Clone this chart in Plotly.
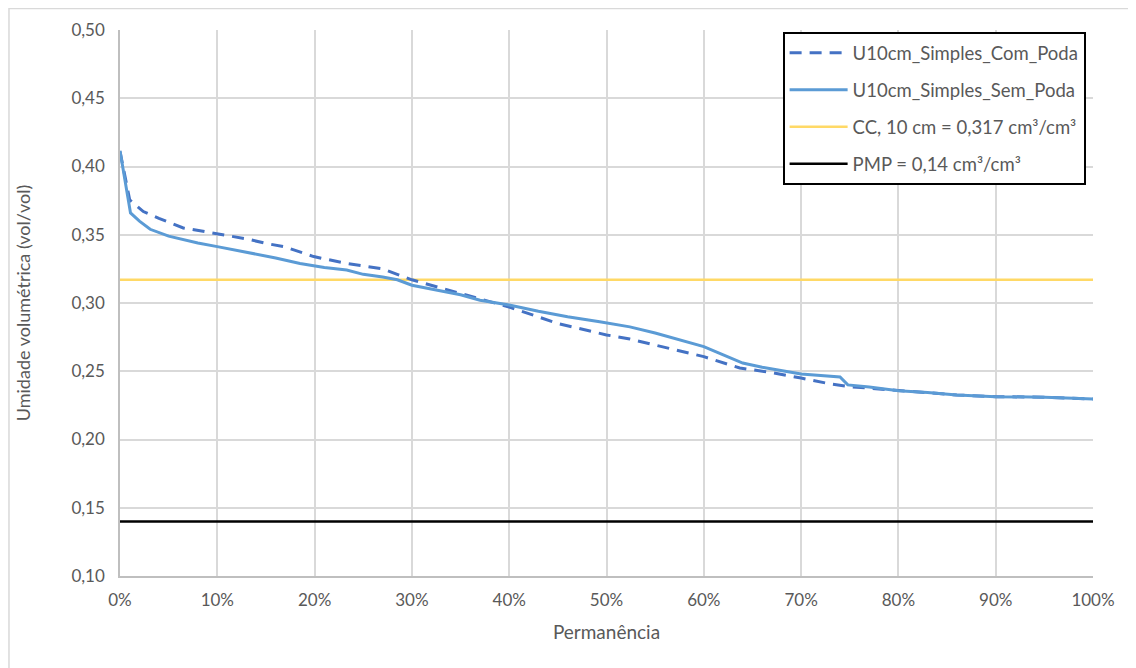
import plotly.graph_objects as go

# Permanência (fraction of time) and volumetric moisture
perm_com = [0.0, 0.005, 0.01, 0.024, 0.04, 0.065, 0.10, 0.13, 0.15, 0.17, 0.199, 0.233, 0.27,
            0.30, 0.33, 0.36, 0.40, 0.45, 0.50, 0.524, 0.55, 0.60, 0.637, 0.67, 0.70, 0.73,
            0.75, 0.80, 0.86, 0.90, 0.95, 1.0]
umid_com = [0.411, 0.392, 0.3755, 0.367, 0.362, 0.355, 0.3506, 0.347, 0.3437, 0.341, 0.334, 0.329,
            0.325, 0.317, 0.311, 0.305, 0.297, 0.285, 0.2766, 0.2736, 0.269, 0.2607, 0.2524,
            0.249, 0.245, 0.2407, 0.2387, 0.236, 0.2326, 0.2314, 0.231, 0.2297]

perm_sem = [0.0, 0.0108, 0.02, 0.031, 0.05, 0.072, 0.08, 0.10, 0.11, 0.133, 0.16, 0.185, 0.21,
            0.233, 0.25, 0.27, 0.285, 0.30, 0.32, 0.35, 0.37, 0.40, 0.43, 0.46, 0.493, 0.50,
            0.524, 0.55, 0.58, 0.60, 0.62, 0.64, 0.66, 0.70, 0.74, 0.748, 0.77, 0.80, 0.83,
            0.86, 0.90, 0.95, 0.98, 1.0]
umid_sem = [0.4115, 0.366, 0.360, 0.354, 0.349, 0.345, 0.344, 0.3413, 0.340, 0.3366, 0.333, 0.329,
            0.326, 0.3242, 0.321, 0.319, 0.317, 0.313, 0.310, 0.306, 0.302, 0.2985, 0.294,
            0.290, 0.2863, 0.2855, 0.2825, 0.278, 0.272, 0.268, 0.262, 0.256, 0.253, 0.248,
            0.2458, 0.240, 0.2385, 0.2357, 0.2345, 0.2326, 0.2314, 0.231, 0.2302, 0.2297]

cc_value = 0.317
pmp_value = 0.14
ref_x = [0.0, 1.0]

names = ["U10cm_Simples_Com_Poda", "U10cm_Simples_Sem_Poda",
         "CC, 10 cm = 0,317 cm³/cm³", "PMP = 0,14 cm³/cm³"]

fig = go.Figure()
fig.add_trace(go.Scatter(x=ref_x, y=[cc_value, cc_value], mode="lines", name=names[2],
                         line=dict(color="#FFD966", width=2.5), legendrank=3, legendgroup="c"))
fig.add_trace(go.Scatter(x=ref_x, y=[pmp_value, pmp_value], mode="lines", name=names[3],
                         line=dict(color="#000000", width=2.5), legendrank=4, legendgroup="d"))
fig.add_trace(go.Scatter(x=perm_com, y=umid_com, mode="lines", name=names[0],
                         line=dict(color="#4472C4", width=3, dash="12px,8px"), legendrank=1,
                         legendgroup="a"))
fig.add_trace(go.Scatter(x=perm_sem, y=umid_sem, mode="lines", name=names[1],
                         line=dict(color="#5B9BD5", width=3), legendrank=2, legendgroup="b"))

font_family = "Lato, 'Liberation Sans', sans-serif"
fig.update_layout(
    width=1136, height=668,
    margin=dict(l=112, r=51, t=22, b=100),
    paper_bgcolor="white", plot_bgcolor="white",
    separators=",.",
    font=dict(family=font_family, size=17, color="#595959"),
    showlegend=True,
    legend=dict(x=0.681, y=0.996, xanchor="left", yanchor="top",
                bordercolor="#000000", borderwidth=2, bgcolor="white",
                font=dict(size=18.5, color="#595959"),
                traceorder="grouped", tracegroupgap=10, itemwidth=58),
    xaxis=dict(range=[0, 1], tickvals=[i / 10 for i in range(11)], tickformat=".0%",
               showgrid=True, gridcolor="#D9D9D9", gridwidth=1.5,
               showline=True, linecolor="#BFBFBF", linewidth=1.5,
               ticks="", ticklen=0, zeroline=False, ticklabelstandoff=8,
               title=dict(text="Permanência", font=dict(size=19, color="#595959"), standoff=17),
               tickfont=dict(size=17, color="#595959")),
    yaxis=dict(range=[0.10, 0.50], dtick=0.05, tickformat=".2f",
               showgrid=True, gridcolor="#D9D9D9", gridwidth=1.5,
               showline=True, linecolor="#BFBFBF", linewidth=1.5,
               ticks="", zeroline=False, ticklabelstandoff=10,
               title=dict(text="Umidade volumétrica (vol/vol)", font=dict(size=18, color="#595959"),
                          standoff=36),
               tickfont=dict(size=17, color="#595959")),
    shapes=[dict(type="rect", xref="paper", yref="paper",
                 x0=-0.1141, x1=1.039, y0=-0.18, y1=1.0394,
                 line=dict(color="#D9D9D9", width=1.5), fillcolor="rgba(0,0,0,0)", layer="below")],
)

fig.write_html("out.html")
